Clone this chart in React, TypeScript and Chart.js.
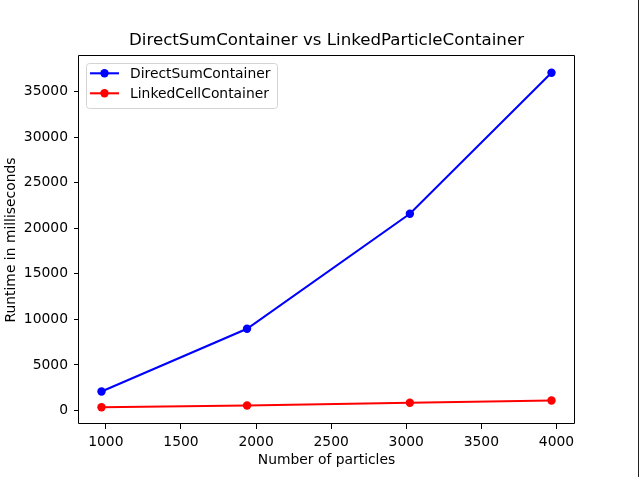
import React, { useEffect, useRef } from "react";
import { Chart, registerables } from "chart.js";

Chart.register(...registerables);

const titleText = "DirectSumContainer vs LinkedParticleContainer";
const xLabel = "Number of particles";
const yLabel = "Runtime in milliseconds";

const particles = [971, 1940, 3024, 3967];
const directSum = [2085, 8964, 21582, 37064];
const linkedCell = [350, 549, 845, 1097];

const seriesNames = ["DirectSumContainer", "LinkedCellContainer"];
const seriesColors = ["#0000ff", "#ff0000"];

const xTicks = [1000, 1500, 2000, 2500, 3000, 3500, 4000];
const yTicks = [0, 5000, 10000, 15000, 20000, 25000, 30000, 35000];

const FONT = "'DejaVu Sans', sans-serif";
const TICK_SIZE = 13.89;

function paddedRange(vals: number[]) {
  const lo = Math.min(...vals);
  const hi = Math.max(...vals);
  const m = (hi - lo) * 0.05;
  return [lo - m, hi + m];
}

const framePlugin = {
  id: "frameAndLegend",
  afterDatasetsDraw(chart: any) {
    const { ctx, chartArea } = chart;
    const { left, right, top, bottom } = chartArea;
    ctx.save();
    // spines
    ctx.strokeStyle = "#000";
    ctx.lineWidth = 1;
    ctx.beginPath();
    ctx.rect(left - 0.5, top - 0.5, right - left + 1, bottom - top);
    ctx.stroke();

    // legend
    const bx = left + 7.5;
    const by = top + 7.5;
    const bw = 191;
    const bh = 45;
    const r = 3;
    ctx.beginPath();
    ctx.moveTo(bx + r, by);
    ctx.lineTo(bx + bw - r, by);
    ctx.arcTo(bx + bw, by, bx + bw, by + r, r);
    ctx.lineTo(bx + bw, by + bh - r);
    ctx.arcTo(bx + bw, by + bh, bx + bw - r, by + bh, r);
    ctx.lineTo(bx + r, by + bh);
    ctx.arcTo(bx, by + bh, bx, by + bh - r, r);
    ctx.lineTo(bx, by + r);
    ctx.arcTo(bx, by, bx + r, by, r);
    ctx.closePath();
    ctx.fillStyle = "rgba(255,255,255,0.8)";
    ctx.fill();
    ctx.strokeStyle = "#d4d4d4";
    ctx.stroke();

    chart.data.datasets.forEach((ds: any, i: number) => {
      const cy = top + 17.3 + i * 20;
      const lx0 = left + 11;
      const lx1 = left + 40;
      ctx.strokeStyle = ds.borderColor;
      ctx.lineWidth = 2.08;
      ctx.beginPath();
      ctx.moveTo(lx0, cy);
      ctx.lineTo(lx1, cy);
      ctx.stroke();
      ctx.fillStyle = ds.borderColor;
      ctx.beginPath();
      ctx.arc((lx0 + lx1) / 2, cy, 4.2, 0, Math.PI * 2);
      ctx.fill();
      ctx.fillStyle = "#000";
      ctx.font = `${TICK_SIZE}px ${FONT}`;
      ctx.textBaseline = "middle";
      ctx.textAlign = "left";
      ctx.fillText(ds.label, left + 51, cy + 1.2);
    });

    ctx.restore();
  },
  afterDraw(chart: any) {
    const { ctx } = chart;
    ctx.save();
    ctx.fillStyle = "#222";
    ctx.fillRect(638, 0, 1, chart.height);
    ctx.restore();
  },
};

export default function App() {
  const ref = useRef<HTMLCanvasElement | null>(null);

  useEffect(() => {
    if (!ref.current) return;
    const [xMin, xMax] = paddedRange(particles);
    const [yMin, yMax] = paddedRange([...directSum, ...linkedCell]);
    const mk = (vals: number[], i: number) => ({
      label: seriesNames[i],
      data: particles.map((x, j) => ({ x, y: vals[j] })),
      borderColor: seriesColors[i],
      backgroundColor: seriesColors[i],
      borderWidth: 2.08,
      pointRadius: 4.2,
      pointHoverRadius: 4.2,
      pointBorderWidth: 0,
      pointBackgroundColor: seriesColors[i],
      tension: 0,
      fill: false,
    });
    const chart = new Chart(ref.current, {
      type: "line",
      data: { datasets: [mk(directSum, 0), mk(linkedCell, 1)] },
      plugins: [framePlugin],
      options: {
        animation: false,
        responsive: false,
        devicePixelRatio: 1,
        layout: { padding: { left: 0, right: 65, top: 0, bottom: 0 } },
        plugins: {
          legend: { display: false },
          tooltip: { enabled: false },
          title: {
            display: true,
            text: titleText,
            fullSize: false,
            color: "#000",
            font: { family: FONT, size: 16.67, weight: "normal", lineHeight: 1.2 },
            padding: { top: 31, bottom: 5 },
          },
        },
        scales: {
          x: {
            type: "linear",
            min: xMin,
            max: xMax,
            afterBuildTicks: (axis: any) => {
              axis.ticks = xTicks.map((v) => ({ value: v }));
            },
            afterFit: (axis: any) => {
              axis.height = 53;
            },
            grid: {
              drawOnChartArea: false,
              drawTicks: true,
              tickLength: 5,
              tickColor: "#000",
              tickWidth: 1,
            },
            border: { display: false },
            ticks: {
              color: "#000",
              padding: 5,
              maxRotation: 0,
              autoSkip: false,
              font: { family: FONT, size: TICK_SIZE },
              callback: (v: any) => String(v),
            },
            title: {
              display: true,
              text: xLabel,
              color: "#000",
              font: { family: FONT, size: TICK_SIZE, lineHeight: 1.2 },
              padding: { top: 0, bottom: 8 },
            },
          },
          y: {
            type: "linear",
            min: yMin,
            max: yMax,
            afterBuildTicks: (axis: any) => {
              axis.ticks = yTicks.map((v) => ({ value: v }));
            },
            afterFit: (axis: any) => {
              axis.width = 79;
            },
            grid: {
              drawOnChartArea: false,
              drawTicks: true,
              tickLength: 5,
              tickColor: "#000",
              tickWidth: 1,
            },
            border: { display: false },
            ticks: {
              color: "#000",
              padding: 6,
              autoSkip: false,
              font: { family: FONT, size: TICK_SIZE },
              callback: (v: any) => String(v),
            },
            title: {
              display: true,
              text: yLabel,
              color: "#000",
              font: { family: FONT, size: TICK_SIZE, lineHeight: 1.2 },
              padding: { top: 3, bottom: 0 },
            },
          },
        },
      },
    });
    return () => chart.destroy();
  }, []);

  return (
    <div style={{ position: "fixed", left: 0, top: 0, width: 639, height: 477, background: "#fff" }}>
      <canvas ref={ref} width={639} height={477} style={{ display: "block", width: 639, height: 477 }} />
    </div>
  );
}
